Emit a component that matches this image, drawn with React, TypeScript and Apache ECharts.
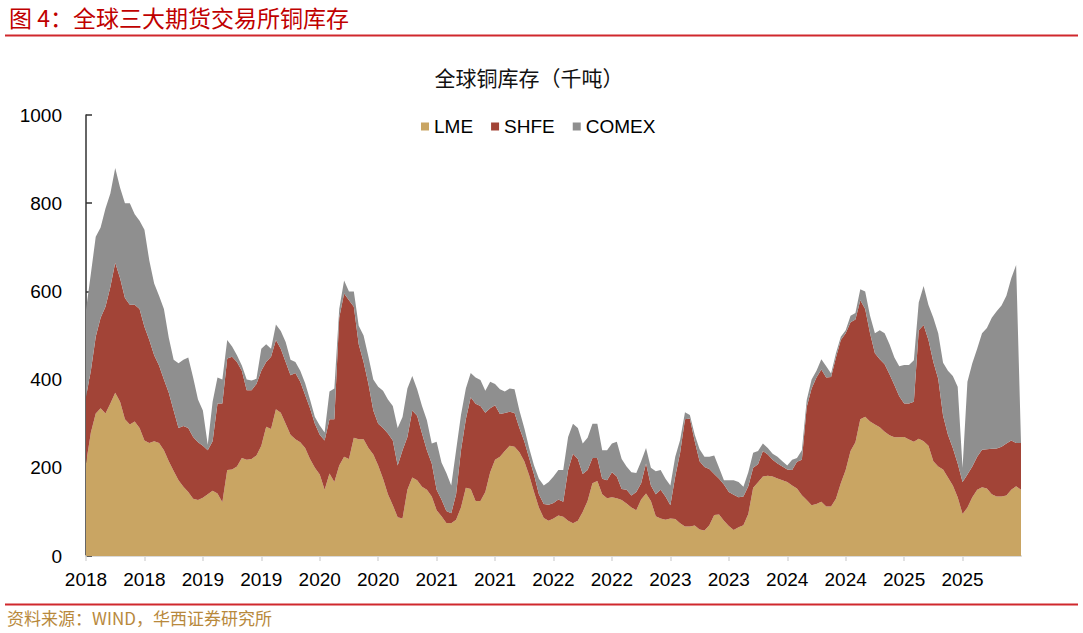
import React, { useEffect, useRef } from "react";
import * as echarts from "echarts";

// Semi-monthly observations, 2018-01-01 .. 2025-12-31 (thousand tonnes)
const LME = [
  210, 280, 323, 335, 323, 346, 370, 350, 310, 298, 305, 290,
  262, 256, 260, 256, 240, 215, 193, 172, 157, 145, 130, 127,
  132, 140, 148, 142, 122, 195, 196, 203, 222, 218, 220, 228,
  250, 293, 288, 333, 325, 300, 275, 265, 258, 245, 220, 200,
  185, 150, 187, 168, 205, 225, 220, 268, 265, 265, 245, 230,
  205, 175, 140, 115, 88, 85, 150, 178, 172, 157, 150, 135,
  104, 90, 75, 74, 82, 110, 155, 152, 125, 125, 145, 190,
  218, 225, 238, 250, 248, 235, 215, 183, 145, 110, 86, 80,
  85, 92, 89, 80, 74, 80, 100, 125, 165, 170, 140, 131,
  133, 131, 127, 119, 110, 104, 128, 142, 125, 90, 85, 82,
  85, 84, 74, 67, 67, 69, 60, 58, 70, 93, 94, 80,
  68, 59, 65, 70, 95, 155, 167, 180, 182, 180, 176, 172,
  168, 160, 153, 138, 127, 115, 118, 123, 112, 112, 130, 165,
  195, 238, 258, 310, 316, 305, 298, 292, 282, 274, 269, 269,
  270, 264, 259, 266, 260, 250, 215, 203, 196, 178, 160, 133,
  95, 110, 133, 150, 156, 153, 140, 135, 135, 137, 150, 158,
  150,
];

const SHFE = [
  151, 140, 174, 205, 242, 264, 295, 280, 275, 272, 265, 270,
  258, 234, 195, 176, 160, 155, 137, 118, 138, 145, 140, 131,
  118, 100, 112, 204, 224, 253, 256, 237, 198, 158, 156, 162,
  170, 147, 164, 157, 145, 140, 135, 150, 137, 120, 115, 100,
  90, 112, 123, 142, 335, 370, 360, 297, 215, 175, 145, 100,
  95, 115, 138, 147, 117, 155, 120, 152, 146, 121, 90, 75,
  46, 38, 27, 23, 58, 130, 155, 208, 220, 215, 180, 145,
  124, 97, 86, 77, 76, 55, 45, 39, 40, 30, 32, 36,
  35, 36, 34, 115, 158, 140, 86, 70, 57, 52, 35, 41,
  57, 49, 25, 31, 27, 41, 37, 68, 35, 50, 65, 53,
  30, 96, 160, 243, 245, 191, 155, 144, 127, 93, 81, 82,
  77, 80, 68, 65, 63, 45, 41, 58, 48, 38, 34, 31,
  28, 35, 61, 80, 211, 265, 287, 300, 293, 294, 320, 325,
  310, 292, 278, 270, 244, 200, 162, 154, 153, 138, 119, 93,
  76, 82, 91, 246, 264, 240, 225, 199, 122, 97, 85, 77,
  73, 75, 70, 75, 85, 89, 103, 109, 113, 118, 112, 98,
  106,
];

const COMEX = [
  197, 220, 227, 205, 223, 212, 215, 205, 215, 230, 205, 200,
  220, 180, 163, 158, 160, 125, 115, 147, 150, 160, 135, 97,
  80, 12, 90, 59, 54, 42, 23, 15, 12, 24, 22, 12,
  50, 40, 18, 35, 40, 45, 35, 25, 25, 27, 20, 15,
  21, 18, 63, 70, 20, 30, 20, 35, 42, 60, 62, 70,
  84, 85, 77, 78, 85, 75, 110, 78, 60, 62, 68, 45,
  109, 84, 86, 63, 100, 80, 70, 55, 60, 59, 50, 60,
  48, 56, 49, 53, 54, 40, 30, 23, 20, 35, 42, 52,
  60, 67, 72, 75, 68, 70, 69, 73, 78, 78, 65, 68,
  65, 79, 68, 53, 53, 43, 50, 35, 40, 52, 45, 40,
  45, 45, 29, 16, 8, 15, 27, 23, 28, 42, 25, 10,
  27, 33, 35, 22, 32, 34, 30, 17, 15, 14, 15, 12,
  9, 23, 8, 22, 16, 20, 15, 23, 25, 8, 10, 7,
  7, 15, 15, 25, 40, 40, 45, 66, 70, 68, 62, 68,
  87, 87, 94, 63, 88, 79, 100, 103, 120, 145, 163, 174,
  32, 210, 234, 245, 264, 275, 297, 311, 320, 335, 368, 404,
  2,
];

const SERIES_NAMES = ["LME", "SHFE", "COMEX"];
const SERIES_COLORS = ["#C9A563", "#A24437", "#8F8F8F"];

// category dates: 1st and 16th of each month, plus final day
const DATES: string[] = (() => {
  const out: string[] = [];
  for (let y = 2018; y <= 2025; y++) {
    for (let m = 1; m <= 12; m++) {
      for (const d of [1, 16]) {
        out.push(`${y}-${String(m).padStart(2, "0")}-${String(d).padStart(2, "0")}`);
      }
    }
  }
  out.push("2025-12-31");
  return out;
})();

const HEADER = "图 4：全球三大期货交易所铜库存";
const TITLE = "全球铜库存（千吨）";
const SOURCE = "资料来源：WIND，华西证券研究所";

const LATIN = "'Liberation Sans', Arial, Helvetica, sans-serif";
const CJK = "'Noto Sans CJK SC', 'Noto Sans CJK JP', sans-serif";

export default function App() {
  const ref = useRef<HTMLDivElement>(null);

  useEffect(() => {
    if (!ref.current) return;
    const chart = echarts.init(ref.current, null, { renderer: "svg" });
    const showTick = (index: number) => index % 12 === 0 && index < DATES.length - 1;
    const dataSets = [LME, SHFE, COMEX];

    chart.setOption({
      animation: false,
      backgroundColor: "#ffffff",
      grid: { left: 86, right: 62, top: 115, bottom: 77, containLabel: false },
      legend: {
        data: SERIES_NAMES,
        left: 416,
        top: 112,
        icon: "rect",
        itemWidth: 8,
        itemHeight: 8,
        itemGap: 18,
        textStyle: { fontSize: 19, color: "#000", fontFamily: LATIN },
      },
      xAxis: {
        type: "category",
        data: DATES,
        boundaryGap: false,
        axisLine: { show: true, lineStyle: { color: "#D9D9D9", width: 2 } },
        axisTick: {
          show: true,
          interval: (index: number) => showTick(index),
          length: 5,
          lineStyle: { color: "#D9D9D9", width: 1.5 },
        },
        axisLabel: {
          interval: (index: number) => showTick(index),
          formatter: (v: string) => v.slice(0, 4),
          fontSize: 19,
          color: "#000",
          fontFamily: LATIN,
          margin: 14,
        },
        splitLine: { show: false },
      },
      yAxis: {
        type: "value",
        min: 0,
        max: 1000,
        interval: 200,
        axisLine: { show: true, lineStyle: { color: "#333", width: 1.5 } },
        axisTick: { show: true, inside: true, length: 6, lineStyle: { color: "#333", width: 1.5 } },
        axisLabel: {
          fontSize: 19,
          color: "#000",
          fontFamily: LATIN,
          margin: 24,
          formatter: (v: number) => String(v),
        },
        splitLine: { show: false },
      },
      series: SERIES_NAMES.map((name, k) => ({
        name,
        type: "line",
        stack: "total",
        data: dataSets[k],
        symbol: "none",
        showSymbol: false,
        lineStyle: { width: 0, color: SERIES_COLORS[k] },
        itemStyle: { color: SERIES_COLORS[k] },
        areaStyle: { color: SERIES_COLORS[k], opacity: 1 },
        emphasis: { disabled: true },
      })),
      graphic: [
        {
          type: "text",
          x: 9,
          y: 17,
          style: { text: HEADER, fill: "#C00000", fontSize: 23, fontFamily: CJK, verticalAlign: "middle", align: "left" },
        },
        {
          type: "line",
          shape: { x1: 5, y1: 35.5, x2: 1078, y2: 35.5 },
          style: { stroke: "#D0282D", lineWidth: 2 },
        },
        {
          type: "text",
          x: 529,
          y: 77,
          style: { text: TITLE, fill: "#111", fontSize: 21, fontFamily: CJK, verticalAlign: "middle", align: "center" },
        },
        {
          type: "line",
          shape: { x1: 5, y1: 604.5, x2: 1078, y2: 604.5 },
          style: { stroke: "#D0282D", lineWidth: 2 },
        },
        {
          type: "text",
          x: 7,
          y: 617.5,
          style: { text: SOURCE, fill: "#B8893C", fontSize: 17, fontFamily: CJK, verticalAlign: "middle", align: "left" },
        },
      ],
    });

    return () => chart.dispose();
  }, []);

  return (
    <div
      ref={ref}
      style={{ position: "fixed", left: 0, top: 0, width: 1083, height: 633, background: "#fff" }}
    />
  );
}
